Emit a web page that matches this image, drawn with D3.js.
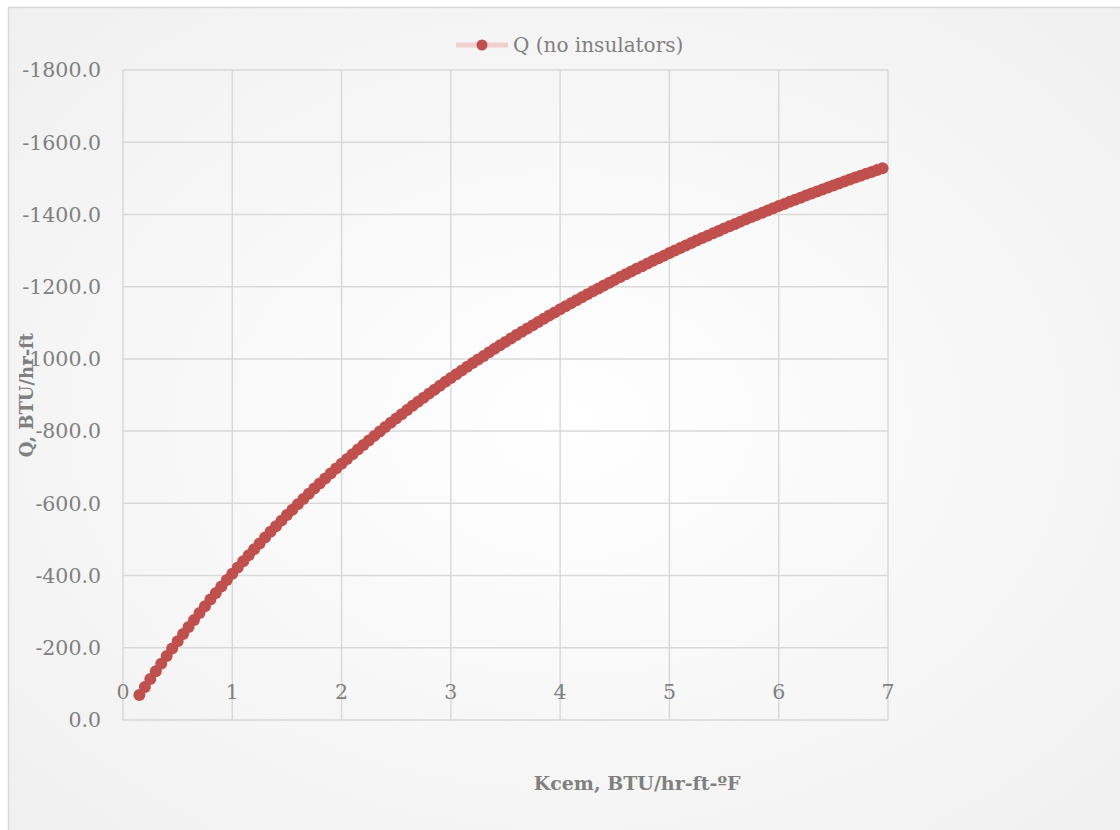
<!DOCTYPE html>
<html>
<head>
<meta charset="utf-8">
<script src="https://cdn.jsdelivr.net/npm/d3@7"></script>
<style>
  html, body { margin: 0; padding: 0; background: #ffffff; }
  svg { display: block; }
  text { font-family: "DejaVu Serif", "Liberation Serif", serif; }
</style>
</head>
<body>
<svg id="chart" width="1120" height="830"></svg>
<script>
// ---- Data ----
const seriesName = "Q (no insulators)";
const xTitle = "Kcem, BTU/hr-ft-ºF";
const yTitle = "Q, BTU/hr-ft";
const xTicks = [0, 1, 2, 3, 4, 5, 6, 7];
const yTicks = [0, -200, -400, -600, -800, -1000, -1200, -1400, -1600, -1800];

const kcem = [
  0.15, 0.20, 0.25, 0.30, 0.35, 0.40, 0.45, 0.50, 0.55, 0.60, 0.65, 0.70, 0.75, 0.80, 0.85, 0.90, 0.95,
  1.00, 1.05, 1.10, 1.15, 1.20, 1.25, 1.30, 1.35, 1.40, 1.45, 1.50, 1.55, 1.60, 1.65, 1.70, 1.75, 1.80, 1.85, 1.90, 1.95,
  2.00, 2.05, 2.10, 2.15, 2.20, 2.25, 2.30, 2.35, 2.40, 2.45, 2.50, 2.55, 2.60, 2.65, 2.70, 2.75, 2.80, 2.85, 2.90, 2.95,
  3.00, 3.05, 3.10, 3.15, 3.20, 3.25, 3.30, 3.35, 3.40, 3.45, 3.50, 3.55, 3.60, 3.65, 3.70, 3.75, 3.80, 3.85, 3.90, 3.95,
  4.00, 4.05, 4.10, 4.15, 4.20, 4.25, 4.30, 4.35, 4.40, 4.45, 4.50, 4.55, 4.60, 4.65, 4.70, 4.75, 4.80, 4.85, 4.90, 4.95,
  5.00, 5.05, 5.10, 5.15, 5.20, 5.25, 5.30, 5.35, 5.40, 5.45, 5.50, 5.55, 5.60, 5.65, 5.70, 5.75, 5.80, 5.85, 5.90, 5.95,
  6.00, 6.05, 6.10, 6.15, 6.20, 6.25, 6.30, 6.35, 6.40, 6.45, 6.50, 6.55, 6.60, 6.65, 6.70, 6.75, 6.80, 6.85, 6.90, 6.95
];
const qValues = [
  -69.1, -91.4, -113.3, -134.9, -156.1, -177.0, -197.7, -217.9, -237.9, -257.6, -277.0, -296.1, -314.9, -333.5, -351.7, -369.8, -387.5,
  -405.0, -422.3, -439.3, -456.1, -472.7, -489.0, -505.1, -521.0, -536.7, -552.1, -567.4, -582.5, -597.3, -612.0, -626.5, -640.8, -654.9, -668.8, -682.6, -696.2,
  -709.6, -722.9, -736.0, -748.9, -761.7, -774.3, -786.8, -799.1, -811.3, -823.3, -835.2, -847.0, -858.6, -870.1, -881.5, -892.7, -903.8, -914.8, -925.6, -936.4,
  -947.0, -957.5, -967.9, -978.2, -988.3, -998.4, -1008.3, -1018.2, -1027.9, -1037.5, -1047.1, -1056.5, -1065.9, -1075.1, -1084.3, -1093.3, -1102.3, -1111.1, -1119.9, -1128.6,
  -1137.2, -1145.8, -1154.2, -1162.6, -1170.8, -1179.0, -1187.1, -1195.2, -1203.1, -1211.0, -1218.8, -1226.6, -1234.2, -1241.8, -1249.3, -1256.8, -1264.2, -1271.5, -1278.8, -1285.9,
  -1293.1, -1300.1, -1307.1, -1314.1, -1320.9, -1327.7, -1334.5, -1341.1, -1347.8, -1354.4, -1360.9, -1367.3, -1373.8, -1380.1, -1386.4, -1392.6, -1398.8, -1405.0, -1411.1, -1417.1,
  -1423.1, -1429.0, -1434.9, -1440.7, -1446.5, -1452.3, -1458.0, -1463.6, -1469.2, -1474.8, -1480.3, -1485.8, -1491.2, -1496.6, -1502.0, -1507.3, -1512.5, -1517.7, -1522.9, -1528.1
];

// ---- Layout / style ----
const W = 1120, H = 830;
const plot = { left: 123, right: 888, top: 70, bottom: 720 };
const gridColor = "#d9d9d9";
const textColor = "#808080";
const markerColor = "#c0504d";
const lineColor = "#f2d0cf";

const svg = d3.select("#chart");

const defs = svg.append("defs");
const grad = defs.append("radialGradient").attr("id", "bg")
  .attr("cx", "50%").attr("cy", "50%").attr("r", "70%");
grad.append("stop").attr("offset", "0%").attr("stop-color", "#ffffff");
grad.append("stop").attr("offset", "100%").attr("stop-color", "#f0f0f0");

svg.append("rect").attr("width", W).attr("height", H).attr("fill", "#ffffff");
svg.append("rect")
  .attr("x", 8.5).attr("y", 7.5).attr("width", W).attr("height", H)
  .attr("fill", "url(#bg)").attr("stroke", gridColor).attr("stroke-width", 1.5);

const x = d3.scaleLinear().domain([0, 7]).range([plot.left, plot.right]);
const y = d3.scaleLinear().domain([0, -1800]).range([plot.bottom, plot.top]);

// gridlines
const grid = svg.append("g");
grid.selectAll("line.v").data(xTicks).join("line")
  .attr("x1", d => x(d)).attr("x2", d => x(d))
  .attr("y1", plot.top).attr("y2", plot.bottom)
  .attr("stroke", gridColor).attr("stroke-width", 1.5);
grid.selectAll("line.h").data(yTicks).join("line")
  .attr("x1", plot.left).attr("x2", plot.right)
  .attr("y1", d => y(d)).attr("y2", d => y(d))
  .attr("stroke", gridColor).attr("stroke-width", 1.5);

// y tick labels
const fmt = d3.format(".1f");
svg.append("g").selectAll("text").data(yTicks).join("text")
  .attr("x", 101).attr("y", d => y(d))
  .attr("dy", "0.36em")
  .attr("text-anchor", "end")
  .attr("font-size", 20.5)
  .attr("fill", textColor)
  .text(d => fmt(d).replace("\u2212", "-"));

// x tick labels (drawn just above the zero line, as in the reference)
svg.append("g").selectAll("text").data(xTicks).join("text")
  .attr("x", d => x(d)).attr("y", y(0) - 28)
  .attr("dy", "0.36em")
  .attr("text-anchor", "middle")
  .attr("font-size", 20.5)
  .attr("fill", textColor)
  .text(d => d);

// series
const pts = kcem.map((k, i) => [k, qValues[i]]);
svg.append("path").datum(pts)
  .attr("d", d3.line().x(d => x(d[0])).y(d => y(d[1])))
  .attr("fill", "none").attr("stroke", lineColor).attr("stroke-width", 5);
svg.append("g").selectAll("circle").data(pts).join("circle")
  .attr("cx", d => x(d[0])).attr("cy", d => y(d[1]))
  .attr("r", 6).attr("fill", markerColor);

// legend
const lg = svg.append("g");
lg.append("line").attr("x1", 456).attr("x2", 508).attr("y1", 45).attr("y2", 45)
  .attr("stroke", lineColor).attr("stroke-width", 5);
lg.append("circle").attr("cx", 482).attr("cy", 45).attr("r", 5.5).attr("fill", markerColor);
lg.append("text").attr("x", 513).attr("y", 45).attr("dy", "0.36em")
  .attr("font-size", 20).attr("fill", textColor).text(seriesName);

// axis titles
svg.append("text")
  .attr("x", 637).attr("y", 783).attr("dy", "0.35em")
  .attr("text-anchor", "middle").attr("font-size", 19).attr("font-weight", "bold")
  .attr("fill", textColor).text(xTitle);
svg.append("text")
  .attr("transform", "translate(27,395) rotate(-90)")
  .attr("dy", "0.35em")
  .attr("text-anchor", "middle").attr("font-size", 18).attr("font-weight", "bold")
  .attr("fill", textColor).text(yTitle);
</script>
</body>
</html>
